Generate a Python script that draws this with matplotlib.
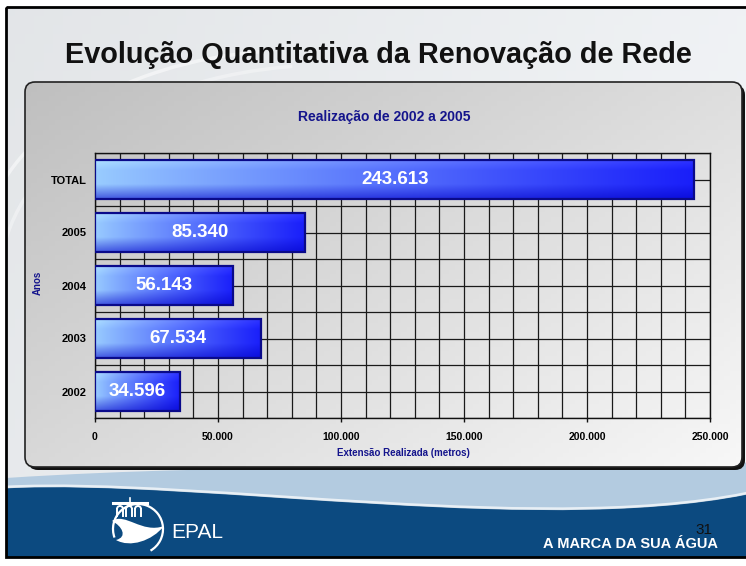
import numpy as np
import matplotlib.pyplot as plt
from matplotlib.patches import FancyBboxPatch, Rectangle, PathPatch, Arc
from matplotlib.path import Path

plt.rcParams['font.family'] = ['Liberation Sans', 'DejaVu Sans']

# dados
categorias = ['TOTAL', '2005', '2004', '2003', '2002']
extensao = [243613, 85340, 56143, 67534, 34596]
rotulos = ['243.613', '85.340', '56.143', '67.534', '34.596']
xticks = [0, 50000, 100000, 150000, 200000, 250000]
xtick_labels = ['0', '50.000', '100.000', '150.000', '200.000', '250.000']

W, H = 746, 566
fig = plt.figure(figsize=(W / 100, H / 100), dpi=100)
fig.patch.set_facecolor('white')

# fundo do slide (coordenadas em pixels)
bg = fig.add_axes([0, 0, 1, 1])
bg.set_xlim(0, W)
bg.set_ylim(H, 0)
bg.axis('off')

yy, xx = np.mgrid[0:1:60j, 0:1:80j]
fundo = 0.89 + 0.05 * xx + 0.02 * yy
frame = Rectangle((6, 7), 760, 550, facecolor='none', edgecolor='none')
bg.add_patch(frame)
im = bg.imshow(np.dstack([fundo, fundo + 0.01, fundo + 0.02]).clip(0, 1),
               extent=(6, 766, 557, 7), aspect='auto', zorder=0)
im.set_clip_path(frame)

# riscos claros no fundo
for (cx, cy, w, h, a) in [(300, 260, 640, 420, 0.5), (330, 280, 660, 430, 0.35)]:
    bg.add_patch(Arc((cx, cy), w, h, theta1=185, theta2=260, color='white',
                     lw=2.5, alpha=a, zorder=1))

# faixa azul clara e onda azul escura
faixa = Path([(6, 478), (250, 462), (500, 470), (766, 462),
              (766, 490), (560, 540), (200, 478), (6, 488), (6, 478)],
             [Path.MOVETO, Path.CURVE4, Path.CURVE4, Path.CURVE4,
              Path.LINETO, Path.CURVE4, Path.CURVE4, Path.CURVE4, Path.CLOSEPOLY])
bg.add_patch(PathPatch(faixa, facecolor='#b3cbe0', edgecolor='none', zorder=1))
onda = Path([(6, 488), (200, 478), (560, 540), (766, 490),
             (766, 557), (6, 557), (6, 488)],
            [Path.MOVETO, Path.CURVE4, Path.CURVE4, Path.CURVE4,
             Path.LINETO, Path.LINETO, Path.CLOSEPOLY])
bg.add_patch(PathPatch(onda, facecolor='#0c4a80', edgecolor='none', zorder=2))
crista = Path([(6, 487), (200, 477), (560, 539), (766, 489)],
              [Path.MOVETO, Path.CURVE4, Path.CURVE4, Path.CURVE4])
bg.add_patch(PathPatch(crista, facecolor='none', edgecolor='white', lw=2,
                       alpha=0.7, zorder=2))

bg.add_patch(Rectangle((6, 7), 760, 550, facecolor='none', edgecolor='black',
                       lw=2, zorder=10))

# titulo
bg.text(65, 63, 'Evolução Quantitativa da Renovação de Rede', fontsize=20.8,
        fontweight='bold', color='#111111', va='baseline', ha='left', zorder=5)

# painel do grafico
sombra = FancyBboxPatch((28, 85), 717, 385, boxstyle='round,pad=0,rounding_size=10',
                        facecolor='#111111', edgecolor='none', zorder=3)
bg.add_patch(sombra)
painel = FancyBboxPatch((25, 82), 717, 385, boxstyle='round,pad=0,rounding_size=10',
                        facecolor='none', edgecolor='#222222', lw=1.2, zorder=5)
bg.add_patch(painel)
yy, xx = np.mgrid[0:1:80j, 0:1:120j]
cinza = 0.75 + 0.22 * (0.55 * xx + 0.45 * yy)
im = bg.imshow(np.dstack([cinza, cinza, cinza]), extent=(25, 742, 467, 82),
               aspect='auto', zorder=4)
im.set_clip_path(painel)

bg.text(384, 117, 'Realização de 2002 a 2005', fontsize=10, fontweight='bold',
        color='#14148c', ha='center', va='center', zorder=6)
bg.text(38, 283, 'Anos', fontsize=7, fontweight='bold', color='#14148c',
        rotation=90, ha='center', va='center', zorder=6)
bg.text(403, 453, 'Extensão Realizada (metros)', fontsize=7, fontweight='bold',
        color='#14148c', ha='center', va='center', zorder=6)

# rodape
bg.add_patch(Arc((138, 529), 50, 50, theta1=-200, theta2=60, color='white',
                 lw=1.6, zorder=6))
bg.plot([113, 147], [503, 503], color='white', lw=2.2, zorder=6)
bg.plot([130, 130], [498, 503], color='white', lw=1.2, zorder=6)
for cx in [120, 129, 138]:
    bg.add_patch(Arc((cx, 509), 6, 6, theta1=180, theta2=360, color='white',
                     lw=1.4, zorder=6))
    bg.plot([cx - 3, cx - 3], [509, 516], color='white', lw=1.4, zorder=6)
    bg.plot([cx + 3, cx + 3], [509, 516], color='white', lw=1.4, zorder=6)
onda_logo = Path([(112, 521), (125, 512), (142, 534), (164, 526),
                  (152, 541), (130, 548), (116, 540),
                  (128, 537), (122, 526), (112, 521)],
                 [Path.MOVETO, Path.CURVE4, Path.CURVE4, Path.CURVE4,
                  Path.CURVE4, Path.CURVE4, Path.CURVE4,
                  Path.CURVE4, Path.CURVE4, Path.CURVE4])
bg.add_patch(PathPatch(onda_logo, facecolor='white', edgecolor='none', zorder=6))
bg.text(171, 538, 'EPAL', fontsize=15, color='white', va='baseline', ha='left',
        family=['Liberation Sans Narrow', 'Liberation Sans'], zorder=6)
bg.text(718, 548, 'A MARCA DA SUA ÁGUA', fontsize=10.5, fontweight='bold',
        color='white', ha='right', va='baseline', zorder=6)
bg.text(712, 534, '31', fontsize=11, color='#111111', ha='right',
        va='baseline', zorder=6)

# grafico de barras
ax = fig.add_axes([95 / W, 1 - 418 / H, (710 - 95) / W, (418 - 153) / H])
ax.patch.set_alpha(0)
pos = np.arange(len(categorias))
for x in range(0, 250001, 10000):
    ax.axvline(x, color='#1a1a1a', lw=0.9, zorder=1)
for y in np.arange(-0.5, len(categorias), 0.5):
    ax.axhline(y, color='#1a1a1a', lw=0.9, zorder=1)

bars = ax.barh(pos, extensao, height=0.72, color='none', edgecolor='#0a0a8a',
               lw=1.6, zorder=4)

u = np.linspace(0, 1, 200)[None, :]
v = np.linspace(0, 1, 40)[:, None]
claro = np.array([0.60, 0.80, 1.00])
escuro = np.array([0.10, 0.12, 0.98])
t = (u ** 0.9)[..., None]
grad = claro * (1 - t) + escuro * t
grad = grad * np.ones((40, 1, 1))
sombra_v = np.clip((v - 0.62) / 0.38, 0, 1)
grad[..., 0] *= 1 - 0.55 * sombra_v
grad[..., 1] *= 1 - 0.55 * sombra_v
grad[..., 2] *= 1 - 0.12 * sombra_v
brilho = np.clip((0.25 - v) / 0.25, 0, 1)[..., None] * 0.08
grad = np.clip(grad + brilho, 0, 1)

for bar, lab in zip(bars, rotulos):
    x0, y0, w, h = bar.get_x(), bar.get_y(), bar.get_width(), bar.get_height()
    img = ax.imshow(grad, extent=(x0, x0 + w, y0 + h, y0), aspect='auto',
                    zorder=3, interpolation='bilinear')
    img.set_clip_path(bar)
    ax.text(x0 + w / 2, y0 + h / 2, lab, color='white', fontsize=13.5,
            fontweight='bold', ha='center', va='center', zorder=5)

ax.set_xlim(0, 250000)
ax.set_ylim(len(categorias) - 0.5, -0.5)
ax.set_xticks(xticks)
ax.set_xticklabels(xtick_labels, fontsize=7.5, fontweight='bold')
ax.set_yticks(pos)
ax.set_yticklabels(categorias, fontsize=8, fontweight='bold')
ax.tick_params(axis='x', length=3, width=1, pad=7, color='#111111')
ax.tick_params(axis='y', length=0, pad=6)
for s in ax.spines.values():
    s.set_color('#111111')
    s.set_linewidth(1)

fig.savefig('out.png', dpi=100)
